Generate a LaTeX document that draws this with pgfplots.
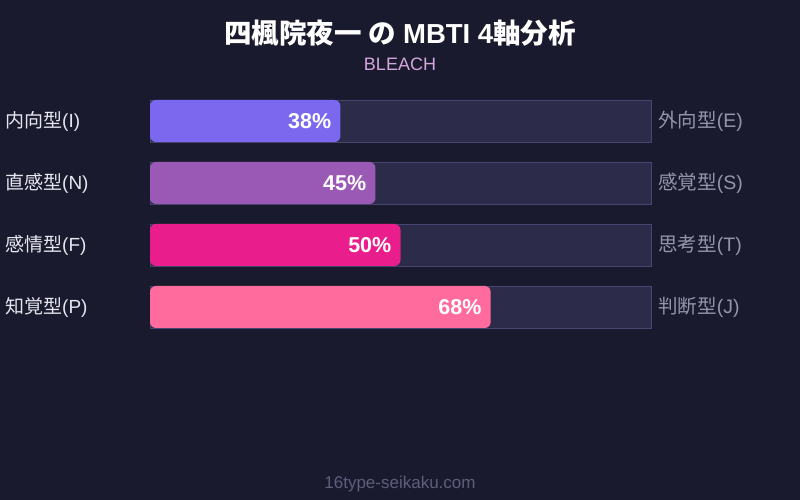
\documentclass[border=0pt]{standalone}
\usepackage{fontspec}
\setmainfont{Liberation Sans}
\newfontfamily\cjk{Noto Sans CJK JP}
\usepackage{pgfplots}
\pgfplotsset{compat=1.18}
\usepackage{pgfplotstable}

\definecolor{bg}{HTML}{1A1A2E}
\definecolor{track}{HTML}{2D2B4A}
\definecolor{trackline}{HTML}{474570}
\definecolor{leftlab}{HTML}{E6E6F0}
\definecolor{rightlab}{HTML}{9494AC}
\definecolor{sub}{HTML}{D4A6DC}
\definecolor{foot}{HTML}{5E5E7C}
\definecolor{cI}{HTML}{7B68EE}
\definecolor{cN}{HTML}{9B59B6}
\definecolor{cF}{HTML}{E91E8C}
\definecolor{cP}{HTML}{FF6B9D}

% row, share of the first type, full track, left and right type names
\pgfplotstableread[col sep=comma]{
row,value,full,left,right
0,38,100,{\cjk 内向型}(I),{\cjk 外向型}(E)
1,45,100,{\cjk 直感型}(N),{\cjk 感覚型}(S)
2,50,100,{\cjk 感情型}(F),{\cjk 思考型}(T)
3,68,100,{\cjk 知覚型}(P),{\cjk 判断型}(J)
}\mbti

\pgfplotsset{pct/.style={
  xbar, bar shift=0pt, bar width=42bp, draw=none, rounded corners=6bp,
  point meta=x,
  nodes near coords={\pgfmathprintnumber{\pgfplotspointmeta}\%},
  every node near coord/.append style={anchor=east, xshift=-9bp, inner sep=0pt, text=white,
    font=\fontsize{21.5bp}{26bp}\selectfont\bfseries}}}

\begin{document}
\begin{tikzpicture}
\fill[bg] (0,0) rectangle (800bp,500bp);
\node[text=white, font=\fontsize{27.5bp}{32bp}\selectfont\bfseries] at (400bp,467bp)
  {{\cjk\bfseries 四楓院夜一 の} MBTI 4{\cjk\bfseries 軸分析}};
\node[text=sub, font=\fontsize{18bp}{22bp}\selectfont] at (400bp,436bp) {BLEACH};
\node[text=foot, font=\fontsize{17bp}{20bp}\selectfont] at (400bp,16bp) {16type-seikaku.com};

\begin{axis}[
  at={(150bp,410bp)}, anchor=north west,
  scale only axis,
  width=501bp, height=248bp,
  xmin=0, xmax=100,
  ymin=-0.5, ymax=3.5,
  y dir=reverse,
  axis line style={draw=none},
  hide x axis,
  ytick={0,1,2,3},
  yticklabels from table={\mbti}{left},
  major tick length=0pt,
  yticklabel style={anchor=west, xshift=-145bp, inner sep=0pt, text=leftlab,
    font=\fontsize{19bp}{23bp}\selectfont},
  /pgf/number format/assume math mode=true,
  clip=false,
]
\addplot[xbar, bar shift=0pt, bar width=42bp, fill=track, draw=trackline, line width=0.8bp,
  point meta=explicit symbolic, nodes near coords,
  every node near coord/.append style={anchor=west, xshift=7bp, inner sep=0pt, text=rightlab,
    font=\fontsize{19.5bp}{23bp}\selectfont}]
  table[x=full, y=row, meta=right] {\mbti};
\addplot[pct, fill=cI] table[x=value, y=row, restrict expr to domain={\thisrow{row}}{0:0}] {\mbti};
\addplot[pct, fill=cN] table[x=value, y=row, restrict expr to domain={\thisrow{row}}{1:1}] {\mbti};
\addplot[pct, fill=cF] table[x=value, y=row, restrict expr to domain={\thisrow{row}}{2:2}] {\mbti};
\addplot[pct, fill=cP] table[x=value, y=row, restrict expr to domain={\thisrow{row}}{3:3}] {\mbti};
\end{axis}
\pgfresetboundingbox
\useasboundingbox (0,0) rectangle (800bp,500bp);
\end{tikzpicture}
\end{document}
